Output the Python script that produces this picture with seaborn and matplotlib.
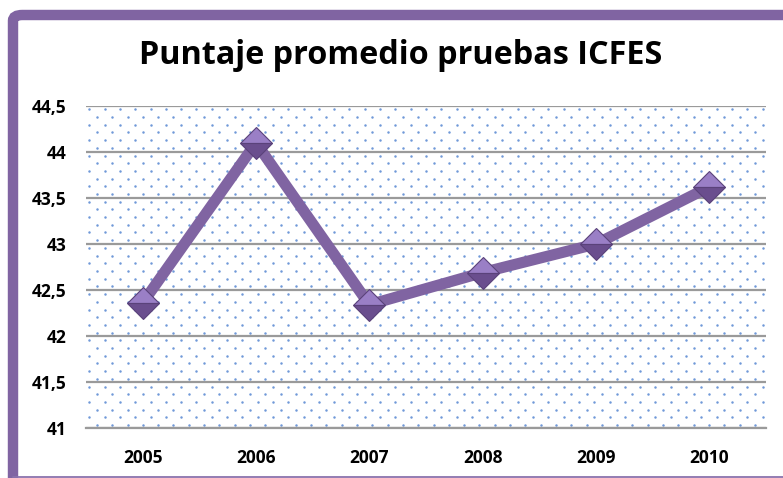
import numpy as np
import pandas as pd
import matplotlib
matplotlib.use("Agg")
import matplotlib.pyplot as plt
import seaborn as sns
from matplotlib.patches import FancyBboxPatch
from matplotlib.lines import Line2D
from matplotlib.ticker import FuncFormatter, MultipleLocator

years = ["2005", "2006", "2007", "2008", "2009", "2010"]
scores = [42.36, 44.10, 42.34, 42.69, 43.00, 43.62]
title = "Puntaje promedio pruebas ICFES"

sns.set_theme(style="white")
plt.rcParams["font.family"] = ["Open Sans", "DejaVu Sans"]

W, H = 783, 478
fig = plt.figure(figsize=(W / 100, H / 100), dpi=100)
fig.patch.set_facecolor("white")

# purple frame (top-left rounded, extends past right/bottom edges)
frame = FancyBboxPatch((13 / W, (H - 495) / H), (800 - 13) / W, (495 - 15) / H,
                       boxstyle="round,pad=0,rounding_size=0.012",
                       transform=fig.transFigure, facecolor="none",
                       edgecolor="#8064a2", linewidth=7.5, zorder=0)
fig.patches.append(frame)
fig.lines.append(Line2D([13 / W, 1], [1 - 477.3 / H, 1 - 477.3 / H],
                        transform=fig.transFigure, color="#8a72ad",
                        linewidth=1.3))

ax = fig.add_axes([86 / W, 1 - 428 / H, (766 - 86) / W, (428 - 106) / H])
ax.set_facecolor("white")

# dotted background texture
wpx, hpx = 766 - 86, 428 - 106
rows = np.arange(3.3, hpx, 7.7)
pts_x, pts_y = [], []
for i, r in enumerate(rows):
    start = 3.3 if i % 2 == 0 else 10.9
    xs = np.arange(start, wpx, 15.3)
    pts_x.extend(xs / wpx)
    pts_y.extend([1 - r / hpx] * len(xs))
ax.scatter(pts_x, pts_y, s=3.2, color="#7099d8", linewidths=0,
           transform=ax.transAxes, zorder=0.5, clip_on=True)

df = pd.DataFrame({"Año": years, "Puntaje": scores})
sns.lineplot(data=df, x="Año", y="Puntaje", ax=ax, color="#8064a2",
             linewidth=8, marker="D", markersize=16.5, fillstyle="top",
             markerfacecolor="#9a7fc6", markerfacecoloralt="#6a4e8e",
             markeredgecolor="#5a427a", markeredgewidth=0.8, zorder=3,
             sort=False)

ax.set_xlim(-0.5, 5.5)
ax.set_ylim(41, 44.5)
ax.yaxis.set_major_locator(MultipleLocator(0.5))
ax.yaxis.set_major_formatter(FuncFormatter(
    lambda v, p: (f"{v:.1f}".rstrip("0").rstrip(".")).replace(".", ",")))
ax.grid(axis="y", color="#9a9a9a", linewidth=1.6, zorder=1)
ax.grid(axis="x", visible=False)
ax.set_axisbelow(True)
for s in ["left", "right", "top"]:
    ax.spines[s].set_visible(False)
ax.spines["bottom"].set_color("#9a9a9a")
ax.spines["bottom"].set_linewidth(1.6)
ax.tick_params(axis="both", length=0, labelsize=12.5)
ax.tick_params(axis="y", pad=14)
ax.tick_params(axis="x", pad=15)
for lab in ax.get_xticklabels() + ax.get_yticklabels():
    lab.set_fontweight("bold")
    lab.set_color("black")
ax.set_xlabel("")
ax.set_ylabel("")

fig.text(401 / W, 1 - 55 / H, title, ha="center", va="center",
         fontsize=23.3, fontweight="bold", color="black")

fig.savefig("out.png", dpi=100)
